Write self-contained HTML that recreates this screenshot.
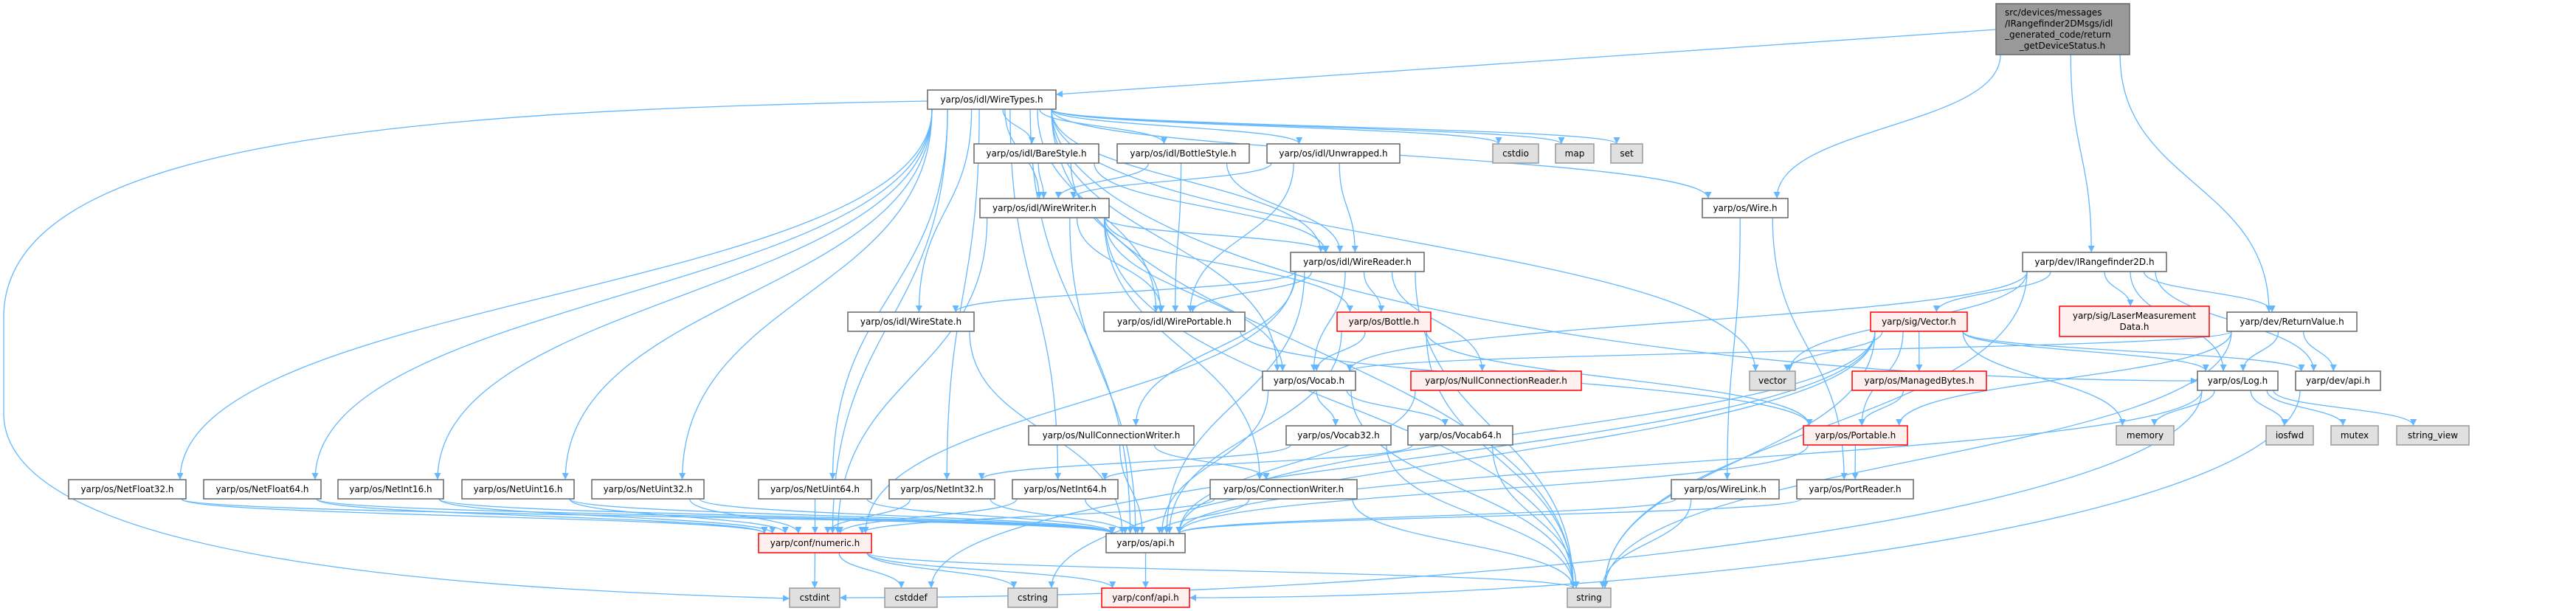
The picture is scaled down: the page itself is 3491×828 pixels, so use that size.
<!DOCTYPE html>
<html><head><meta charset="utf-8"><style>
html,body{margin:0;padding:0;background:#fff;}
svg{display:block;}
text{font-family:"DejaVu Sans","Liberation Sans",sans-serif;font-size:12px;fill:#000;}
</style></head><body>
<svg id="g" width="3491" height="828" viewBox="0 0 3491 828" xmlns="http://www.w3.org/2000/svg">
<defs><marker id="ah" viewBox="0 0 10 10" refX="10" refY="5" markerWidth="10" markerHeight="9" markerUnits="userSpaceOnUse" orient="auto"><path d="M0,0 L10,5 L0,10 z" fill="#63b8ff"/></marker></defs>
<g id="edges" fill="none" stroke="#63b8ff" stroke-width="1.3"></g>
<g id="nodes">
<rect x="2705" y="5" width="181" height="69" fill="#999" stroke="#666" stroke-width="1.5"/>
<text x="2717" y="21">src/devices/messages</text>
<text x="2717" y="36">/IRangefinder2DMsgs/idl</text>
<text x="2717" y="51">_generated_code/return</text>
<text x="2795" y="66" text-anchor="middle">_getDeviceStatus.h</text>
</g>
</svg>
<script>
var N={
wt:[1257,1431,122,148,"",0],
bare:[1320,1489,195,221,"",0],
bottle:[1514,1693,195,221,"",0],
unw:[1717,1897,195,221,"",0],
cstdio:[2023,2085,195,221,"",2],
map:[2108,2160,195,221,"",2],
set:[2183,2226,195,221,"",2],
ww:[1328,1503,269,295,"",0],
wire:[2307,2423,269,295,"",0],
wr:[1749,1930,342,368,"",0],
ir:[2741,2936,342,368,"",0],
ws:[1149,1320,423,449,"",0],
wp:[1496,1687,423,449,"",0],
bot:[1812,1939,423,449,"",1],
vec:[2535,2666,423,449,"",1],
lmd:[2791,2994,415,456,"",1],
rv:[3018,3194,423,449,"",0],
voc:[1711,1837,503,529,"",0],
ncr:[1912,2143,503,529,"",1],
vector:[2371,2433,503,529,"",2],
mb:[2510,2692,503,529,"",1],
log:[2978,3087,503,529,"",0],
dapi:[3111,3226,503,529,"",0],
ncw:[1394,1618,577,603,"",0],
v32:[1743,1885,577,603,"",0],
v64:[1908,2050,577,603,"",0],
port:[2444,2585,577,603,"",1],
memory:[2868,2946,577,603,"",2],
iosfwd:[3071,3135,577,603,"",2],
mutex:[3159,3223,577,603,"",2],
sv:[3248,3346,577,603,"",2],
nf32:[93,252,650,676,"",0],
nf64:[276,435,650,676,"",0],
ni16:[458,601,650,676,"",0],
nu16:[626,778,650,676,"",0],
nu32:[802,954,650,676,"",0],
nu64:[1028,1181,650,676,"",0],
ni32:[1205,1348,650,676,"",0],
ni64:[1372,1515,650,676,"",0],
cw:[1640,1839,650,676,"",0],
wl:[2265,2411,650,676,"",0],
pr:[2435,2593,650,676,"",0],
num:[1028,1181,723,749,"",1],
api:[1499,1606,723,749,"",0],
cstdint:[1070,1138,797,823,"",2],
cstddef:[1199,1270,797,823,"",2],
cstring:[1366,1433,797,823,"",2],
capi:[1493,1612,797,823,"",1],
string:[2124,2183,797,823,"",2]
};
var E="top>wire top>ir top>rv "+
"wt>nf32 wt>nf64 wt>ni16 wt>nu16 wt>nu32 wt>nu64 wt>ni32 wt>ni64 wt>num wt>api wt>ws wt>bare wt>bottle wt>unw wt>ww wt>wp wt>wr wt>cstdio wt>map wt>set wt>string wt>vector wt>wire wt>log wt>voc "+
"bare>ww bare>wp bare>wr bottle>ww bottle>wp bottle>wr unw>ww unw>wp unw>wr "+
"ww>num ww>api ww>wr ww>wp ww>voc ww>bot ww>cw ww>string "+
"wr>ws wr>wp wr>bot wr>voc wr>ncr wr>ncw wr>num wr>api wr>string "+
"ws>api wp>port bot>voc bot>port bot>api bot>string voc>v32 voc>v64 voc>api voc>string "+
"ncr>api ncw>cw ncw>api v32>ni32 v32>string v64>ni64 v64>string "+
"nf32>num nf32>api nf64>num nf64>api ni16>num ni16>api nu16>num nu16>api nu32>num nu32>api nu64>num nu64>api ni32>num ni32>api ni64>num ni64>api "+
"cw>num cw>api cw>string api>capi num>cstdint num>cstddef num>cstring num>capi num>string "+
"wire>wl wire>pr wl>api wl>string pr>api port>pr port>api "+
"ir>voc ir>vector ir>vec ir>lmd ir>rv ir>log ir>string ir>dapi "+
"vec>vector vec>mb vec>port vec>memory vec>log vec>dapi vec>api vec>string vec>cstring vec>cstddef "+
"mb>port rv>log rv>dapi rv>port rv>voc rv>string "+
"log>memory log>iosfwd log>mutex log>sv log>api log>cstdint dapi>capi";
N.top=[2705,2886,5,74,"",3];
var svg=document.getElementById('g'),ns="http://www.w3.org/2000/svg";
var eg=document.getElementById('edges');
function P(t,a,p){var e=document.createElementNS(ns,t);for(var k in a)e.setAttribute(k,a[k]);(p||svg).appendChild(e);return e;}
function cl(v,a,b){return Math.max(a,Math.min(b,v));}
P('path',{d:"M2705,40 L1431,128","marker-end":"url(#ah)"},eg);
P('path',{d:"M1257,137 C500,150 5,200 5,430 L5,560 C5,770 700,800 1070,811","marker-end":"url(#ah)"},eg);
E.split(" ").forEach(function(s){if(!s)return;var q=s.split(">"),a=N[q[0]],b=N[q[1]];if(!a||!b)return;
var acx=(a[0]+a[1])/2,bcx=(b[0]+b[1])/2,dx=bcx-acx,dy=b[2]-a[3],d;
var sx=cl(acx+dx*0.25,a[0]+6,a[1]-6),sy=a[3];
if(dy>200&&Math.abs(dx)>4*dy){
 var dir=dx>0?1:-1,tx=dir>0?b[0]:b[1],ty=(b[2]+b[3])/2;
 d="M"+sx+","+sy+" C"+sx+","+(sy+dy*0.6)+" "+(tx-dir*Math.abs(tx-sx)*0.5)+","+ty+" "+tx+","+ty;
}else{
 var tx=cl(bcx-dx*0.1,b[0]+8,b[1]-8),ty=b[2];
 d="M"+sx+","+sy+" C"+sx+","+(sy+dy*0.5)+" "+tx+","+(ty-dy*0.5)+" "+tx+","+ty;}
P('path',{d:d,"marker-end":"url(#ah)"},eg);});
var ng=document.getElementById('nodes');
for(var k in N){var n=N[k];if(n[5]==3)continue;var f=["#fff","#fff0f0","#e0e0e0"][n[5]],st=["#666","#f00","#999"][n[5]];
P('rect',{x:n[0],y:n[2],width:n[1]-n[0],height:n[3]-n[2],fill:f,stroke:st,"stroke-width":1.5},ng);}
</script>
<svg style="position:absolute;left:0;top:0" width="3491" height="828" xmlns="http://www.w3.org/2000/svg">
<g text-anchor="middle" font-family="DejaVu Sans, Liberation Sans, sans-serif" font-size="12">
<text x="1344" y="139">yarp/os/idl/WireTypes.h</text>
<text x="1404.5" y="212">yarp/os/idl/BareStyle.h</text>
<text x="1603.5" y="212">yarp/os/idl/BottleStyle.h</text>
<text x="1807" y="212">yarp/os/idl/Unwrapped.h</text>
<text x="2054" y="212">cstdio</text>
<text x="2134" y="212">map</text>
<text x="2204.5" y="212">set</text>
<text x="1415.5" y="286">yarp/os/idl/WireWriter.h</text>
<text x="2365" y="286">yarp/os/Wire.h</text>
<text x="1839.5" y="359">yarp/os/idl/WireReader.h</text>
<text x="2838.5" y="359">yarp/dev/IRangefinder2D.h</text>
<text x="1234.5" y="440">yarp/os/idl/WireState.h</text>
<text x="1591.5" y="440">yarp/os/idl/WirePortable.h</text>
<text x="1875.5" y="440">yarp/os/Bottle.h</text>
<text x="2600.5" y="440">yarp/sig/Vector.h</text>
<text x="2892.5" y="432">yarp/sig/LaserMeasurement</text>
<text x="2892.5" y="447">Data.h</text>
<text x="3106" y="440">yarp/dev/ReturnValue.h</text>
<text x="1774" y="520">yarp/os/Vocab.h</text>
<text x="2027.5" y="520">yarp/os/NullConnectionReader.h</text>
<text x="2402" y="520">vector</text>
<text x="2601" y="520">yarp/os/ManagedBytes.h</text>
<text x="3032.5" y="520">yarp/os/Log.h</text>
<text x="3168.5" y="520">yarp/dev/api.h</text>
<text x="1506" y="594">yarp/os/NullConnectionWriter.h</text>
<text x="1814" y="594">yarp/os/Vocab32.h</text>
<text x="1979" y="594">yarp/os/Vocab64.h</text>
<text x="2514.5" y="594">yarp/os/Portable.h</text>
<text x="2907" y="594">memory</text>
<text x="3103" y="594">iosfwd</text>
<text x="3191" y="594">mutex</text>
<text x="3297" y="594">string_view</text>
<text x="172.5" y="667">yarp/os/NetFloat32.h</text>
<text x="355.5" y="667">yarp/os/NetFloat64.h</text>
<text x="529.5" y="667">yarp/os/NetInt16.h</text>
<text x="702" y="667">yarp/os/NetUint16.h</text>
<text x="878" y="667">yarp/os/NetUint32.h</text>
<text x="1104.5" y="667">yarp/os/NetUint64.h</text>
<text x="1276.5" y="667">yarp/os/NetInt32.h</text>
<text x="1443.5" y="667">yarp/os/NetInt64.h</text>
<text x="1739.5" y="667">yarp/os/ConnectionWriter.h</text>
<text x="2338" y="667">yarp/os/WireLink.h</text>
<text x="2514" y="667">yarp/os/PortReader.h</text>
<text x="1104.5" y="740">yarp/conf/numeric.h</text>
<text x="1552.5" y="740">yarp/os/api.h</text>
<text x="1104" y="814">cstdint</text>
<text x="1234.5" y="814">cstddef</text>
<text x="1399.5" y="814">cstring</text>
<text x="1552.5" y="814">yarp/conf/api.h</text>
<text x="2153.5" y="814">string</text>
</g></svg>
</body></html>
